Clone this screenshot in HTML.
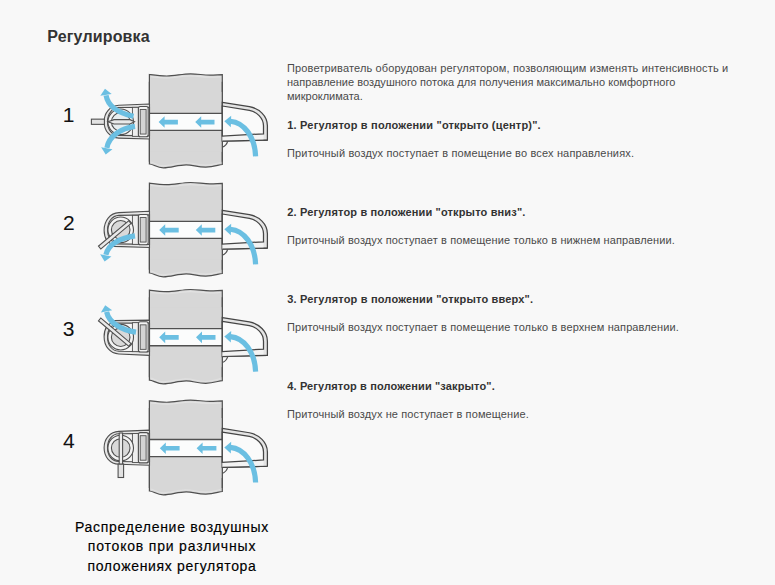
<!DOCTYPE html>
<html><head><meta charset="utf-8"><style>
html,body{margin:0;padding:0;}
body{width:775px;height:585px;background:#f8f8f8;position:relative;overflow:hidden;font-family:"Liberation Sans",sans-serif;}
.t{position:absolute;white-space:nowrap;}
.dg{-webkit-text-stroke:0.05px #111;}
.cp{-webkit-text-stroke:0.15px #000;}
</style></head><body>
<svg width="775" height="585" viewBox="0 0 775 585" style="position:absolute;left:0;top:0"><g transform="translate(0,121.85)"><g transform="translate(0,0)"><path d="M149.4,-47.35 C155,-46.6 160,-45.85 166.7,-45.85 C175,-45.85 182,-48.05 190.5,-48.05 C198,-48.05 203,-46.65 210,-46.65 C215,-46.65 219,-47.15 222.3,-47.15 L222.3,0 L149.4,0 Z" fill="#d7d7d7" stroke="#505050" stroke-width="1.2"/><path d="M151,-45.3 C156,-44.6 160,-43.9 166.7,-43.9 C175,-43.9 182,-46 190.5,-46 C198,-46 203,-44.7 210,-44.7 C215,-44.7 218,-45 220.5,-45.1" fill="none" stroke="#e2e2e2" stroke-width="1.3"/></g><g transform="translate(0,0)"><path d="M149.4,0 L222.3,0 L222.3,42.65 C219,42.65 214,45.35 205.7,45.35 C197,45.35 193,42.95 186.2,42.95 C178,42.95 171,45.95 163.4,45.95 C157,45.95 153,42.15 149.4,42.15 Z" fill="#d7d7d7" stroke="#505050" stroke-width="1.2"/><path d="M151,40.3 C153,40.3 157,44 163.4,44 C171,44 178,41 186.2,41 C193,41 197,43.4 205.7,43.4 C214,43.4 218,40.8 220.5,40.8" fill="none" stroke="#e0e0e0" stroke-width="1.3"/></g><rect x="149.4" y="-30" width="72.9" height="60" fill="#d7d7d7"/><line x1="149.4" y1="-40" x2="149.4" y2="40" stroke="#505050" stroke-width="1.2"/><line x1="222.3" y1="-40" x2="222.3" y2="40" stroke="#505050" stroke-width="1.2"/><rect x="149.4" y="-8.5" width="72.9" height="17" fill="#fbfcfc"/><line x1="149.4" y1="-8.5" x2="222.3" y2="-8.5" stroke="#505050" stroke-width="1.3"/><line x1="149.4" y1="8.6" x2="222.3" y2="8.6" stroke="#505050" stroke-width="1.3"/><path d="M158.6,0.2 L164.6,-5.6 L164.6,-2.1 L177.9,-2.1 L177.9,2.6 L164.6,2.6 L164.6,6 Z" fill="#6bbfe2"/><path d="M195.2,0.2 L201.2,-5.6 L201.2,-2.1 L214.5,-2.1 L214.5,2.6 L201.2,2.6 L201.2,6 Z" fill="#6bbfe2"/><path d="M222.3,-19.55 L249.4,-15.25 C259,-13.4 267.4,-6 267.4,4 L267.4,18.25 L222.3,19.35 Z" fill="#e4e4e4" stroke="#454545" stroke-width="1.25"/><path d="M222.3,14.35 L263.5,11.95 L263.5,18.35 L222.3,19.35 Z" fill="#f3f3f3"/><path d="M222.3,-15.85 L249.4,-11.55 C256.5,-10.2 263.5,-4 263.5,4 L263.5,11.95 L222.3,14.35 Z" fill="#fafafa" stroke="#454545" stroke-width="1.25"/><path d="M222.3,19.35 L267.4,18.25" fill="none" stroke="#454545" stroke-width="1.25"/><path d="M227.7,19.4 C227,22 224.5,24.5 222.3,25.4" fill="none" stroke="#505050" stroke-width="1.1"/><path d="M255.6,34.5 C255,15 244,0.5 230.3,-0.6" fill="none" stroke="#6bbfe2" stroke-width="5.2"/><path d="M224.3,-0.6 L231.2,-6.2 L230.8,5.4 Z" fill="#6bbfe2"/><path d="M149.5,-17.9 L118.8,-16.6 C110,-16.2 104.1,-9 104.1,-0.2 C104.1,9 110,16 118.8,16.3 L149.5,17.2 Z" fill="#e6e6e6" stroke="#505050" stroke-width="1.1"/><path d="M149.5,-14.6 L118.8,-14.3 C112,-14 107.5,-8 107.5,-0.2 C107.5,8 112,13.4 118.8,13.5 L149.5,14 Z" fill="#f6f6f6" stroke="#505050" stroke-width="1.1"/><rect x="132.4" y="-14.5" width="6" height="29" fill="#eeeeee" stroke="#505050" stroke-width="0.9"/><circle cx="120.7" cy="0" r="12.8" fill="#f4f4f4" stroke="#505050" stroke-width="1.1"/><circle cx="120.7" cy="0" r="9.3" fill="#e8eef0" stroke="#505050" stroke-width="1.1"/><rect x="138.4" y="-15.4" width="9.8" height="30.3" rx="2" fill="#f4f4f4" stroke="#505050" stroke-width="1.1"/><rect x="140.2" y="-12.3" width="5.9" height="24.5" fill="#d4d4d4" stroke="#505050" stroke-width="0.9"/><rect x="91.4" y="-2.7" width="13" height="5.2" fill="#e2e2e2" stroke="#505050" stroke-width="1.1"/><path d="M108,0 L114,-2.2 L130,-2.2 L134.5,0 L130,2.2 L114,2.2 Z" fill="#e9e9e9" stroke="#505050" stroke-width="1.1"/><path d="M133.5,-5.6 C120,-8.5 108,-15 106.08,-26.51" fill="none" stroke="#6bbfe2" stroke-width="5.2"/><path d="M104.98,-33.12 L111.67,-27.95 L100.33,-26.05 Z" fill="#6bbfe2"/><path d="M135,4.6 C121,6.5 109,14 106.89,26.01" fill="none" stroke="#6bbfe2" stroke-width="5.2"/><path d="M105.73,32.61 L101.14,25.50 L112.46,27.50 Z" fill="#6bbfe2"/></g><g transform="translate(0,229.85)"><g transform="translate(0,0.7)"><path d="M149.4,-47.35 C155,-46.6 160,-45.85 166.7,-45.85 C175,-45.85 182,-48.05 190.5,-48.05 C198,-48.05 203,-46.65 210,-46.65 C215,-46.65 219,-47.15 222.3,-47.15 L222.3,0 L149.4,0 Z" fill="#d7d7d7" stroke="#505050" stroke-width="1.2"/><path d="M151,-45.3 C156,-44.6 160,-43.9 166.7,-43.9 C175,-43.9 182,-46 190.5,-46 C198,-46 203,-44.7 210,-44.7 C215,-44.7 218,-45 220.5,-45.1" fill="none" stroke="#e2e2e2" stroke-width="1.3"/></g><g transform="translate(0,1.0)"><path d="M149.4,0 L222.3,0 L222.3,42.65 C219,42.65 214,45.35 205.7,45.35 C197,45.35 193,42.95 186.2,42.95 C178,42.95 171,45.95 163.4,45.95 C157,45.95 153,42.15 149.4,42.15 Z" fill="#d7d7d7" stroke="#505050" stroke-width="1.2"/><path d="M151,40.3 C153,40.3 157,44 163.4,44 C171,44 178,41 186.2,41 C193,41 197,43.4 205.7,43.4 C214,43.4 218,40.8 220.5,40.8" fill="none" stroke="#e0e0e0" stroke-width="1.3"/></g><rect x="149.4" y="-30" width="72.9" height="60" fill="#d7d7d7"/><line x1="149.4" y1="-40" x2="149.4" y2="40" stroke="#505050" stroke-width="1.2"/><line x1="222.3" y1="-40" x2="222.3" y2="40" stroke="#505050" stroke-width="1.2"/><rect x="149.4" y="-8.5" width="72.9" height="17" fill="#fbfcfc"/><line x1="149.4" y1="-8.5" x2="222.3" y2="-8.5" stroke="#505050" stroke-width="1.3"/><line x1="149.4" y1="8.6" x2="222.3" y2="8.6" stroke="#505050" stroke-width="1.3"/><path d="M159.2,0.2 L165.2,-5.6 L165.2,-2.1 L178.7,-2.1 L178.7,2.6 L165.2,2.6 L165.2,6 Z" fill="#6bbfe2"/><path d="M195.8,0.2 L201.8,-5.6 L201.8,-2.1 L215.3,-2.1 L215.3,2.6 L201.8,2.6 L201.8,6 Z" fill="#6bbfe2"/><path d="M222.3,-19.55 L249.4,-15.25 C259,-13.4 267.4,-6 267.4,4 L267.4,18.25 L222.3,19.35 Z" fill="#e4e4e4" stroke="#454545" stroke-width="1.25"/><path d="M222.3,14.35 L263.5,11.95 L263.5,18.35 L222.3,19.35 Z" fill="#f3f3f3"/><path d="M222.3,-15.85 L249.4,-11.55 C256.5,-10.2 263.5,-4 263.5,4 L263.5,11.95 L222.3,14.35 Z" fill="#fafafa" stroke="#454545" stroke-width="1.25"/><path d="M222.3,19.35 L267.4,18.25" fill="none" stroke="#454545" stroke-width="1.25"/><path d="M227.7,19.4 C227,22 224.5,24.5 222.3,25.4" fill="none" stroke="#505050" stroke-width="1.1"/><path d="M255.6,34.5 C255,15 244,0.5 230.3,-0.6" fill="none" stroke="#6bbfe2" stroke-width="5.2"/><path d="M224.3,-0.6 L231.2,-6.2 L230.8,5.4 Z" fill="#6bbfe2"/><path d="M149.5,-18.6 L118.8,-17.2 C110,-16.8 104.1,-9 104.1,0.5 C104.1,5 105,8 107,11 L114,16.5 L149.5,17.6 Z" fill="#e6e6e6" stroke="#505050" stroke-width="1.1"/><path d="M149.5,-15 L118.8,-14.5 C112,-14.2 107.5,-8 107.5,0.5 C107.5,4.5 108.5,7 110,9.5 L116,14 L149.5,14.5 Z" fill="#f6f6f6" stroke="#505050" stroke-width="1.1"/><rect x="132.4" y="-14.5" width="6" height="29" fill="#eeeeee" stroke="#505050" stroke-width="0.9"/><circle cx="120.7" cy="0" r="12.8" fill="#f4f4f4" stroke="#505050" stroke-width="1.1"/><circle cx="120.7" cy="0" r="9.3" fill="#d9d9d9" stroke="#505050" stroke-width="1.1"/><rect x="138.4" y="-15.4" width="9.8" height="30.3" rx="2" fill="#f4f4f4" stroke="#505050" stroke-width="1.1"/><rect x="140.2" y="-12.3" width="5.9" height="24.5" fill="#d4d4d4" stroke="#505050" stroke-width="0.9"/><g transform="translate(120.7,0) rotate(-40)"><rect x="-27.5" y="-1.8" width="39.5" height="3.6" fill="#e9e9e9" stroke="#505050" stroke-width="1.1"/></g><path d="M135,6 C121,8 108,14 105.89,25.01" fill="none" stroke="#6bbfe2" stroke-width="5.2"/><path d="M104.64,31.59 L100.15,24.42 L111.45,26.58 Z" fill="#6bbfe2"/></g><g transform="translate(0,337.15)"><g transform="translate(0,0.4)"><path d="M149.4,-47.35 C155,-46.6 160,-45.85 166.7,-45.85 C175,-45.85 182,-48.05 190.5,-48.05 C198,-48.05 203,-46.65 210,-46.65 C215,-46.65 219,-47.15 222.3,-47.15 L222.3,0 L149.4,0 Z" fill="#d7d7d7" stroke="#505050" stroke-width="1.2"/><path d="M151,-45.3 C156,-44.6 160,-43.9 166.7,-43.9 C175,-43.9 182,-46 190.5,-46 C198,-46 203,-44.7 210,-44.7 C215,-44.7 218,-45 220.5,-45.1" fill="none" stroke="#e2e2e2" stroke-width="1.3"/></g><g transform="translate(0,0.8)"><path d="M149.4,0 L222.3,0 L222.3,42.65 C219,42.65 214,45.35 205.7,45.35 C197,45.35 193,42.95 186.2,42.95 C178,42.95 171,45.95 163.4,45.95 C157,45.95 153,42.15 149.4,42.15 Z" fill="#d7d7d7" stroke="#505050" stroke-width="1.2"/><path d="M151,40.3 C153,40.3 157,44 163.4,44 C171,44 178,41 186.2,41 C193,41 197,43.4 205.7,43.4 C214,43.4 218,40.8 220.5,40.8" fill="none" stroke="#e0e0e0" stroke-width="1.3"/></g><rect x="149.4" y="-30" width="72.9" height="60" fill="#d7d7d7"/><line x1="149.4" y1="-40" x2="149.4" y2="40" stroke="#505050" stroke-width="1.2"/><line x1="222.3" y1="-40" x2="222.3" y2="40" stroke="#505050" stroke-width="1.2"/><rect x="149.4" y="-8.5" width="72.9" height="17" fill="#fbfcfc"/><line x1="149.4" y1="-8.5" x2="222.3" y2="-8.5" stroke="#505050" stroke-width="1.3"/><line x1="149.4" y1="8.6" x2="222.3" y2="8.6" stroke="#505050" stroke-width="1.3"/><path d="M159.2,0.2 L165.2,-5.6 L165.2,-2.1 L178.7,-2.1 L178.7,2.6 L165.2,2.6 L165.2,6 Z" fill="#6bbfe2"/><path d="M196.0,0.2 L202.0,-5.6 L202.0,-2.1 L215.5,-2.1 L215.5,2.6 L202.0,2.6 L202.0,6 Z" fill="#6bbfe2"/><path d="M222.3,-19.55 L249.4,-15.25 C259,-13.4 267.4,-6 267.4,4 L267.4,18.25 L222.3,19.35 Z" fill="#e4e4e4" stroke="#454545" stroke-width="1.25"/><path d="M222.3,14.35 L263.5,11.95 L263.5,18.35 L222.3,19.35 Z" fill="#f3f3f3"/><path d="M222.3,-15.85 L249.4,-11.55 C256.5,-10.2 263.5,-4 263.5,4 L263.5,11.95 L222.3,14.35 Z" fill="#fafafa" stroke="#454545" stroke-width="1.25"/><path d="M222.3,19.35 L267.4,18.25" fill="none" stroke="#454545" stroke-width="1.25"/><path d="M227.7,19.4 C227,22 224.5,24.5 222.3,25.4" fill="none" stroke="#505050" stroke-width="1.1"/><path d="M255.6,34.5 C255,15 244,0.5 230.3,-0.6" fill="none" stroke="#6bbfe2" stroke-width="5.2"/><path d="M224.3,-0.6 L231.2,-6.2 L230.8,5.4 Z" fill="#6bbfe2"/><path d="M149.5,18.2 L118.8,16.8 C110,16.4 104.1,9 104.1,-0.5 C104.1,-5 105,-8 107,-11 L114,-16.5 L149.5,-17 Z" fill="#e6e6e6" stroke="#505050" stroke-width="1.1"/><path d="M149.5,14.6 L118.8,14.1 C112,13.8 107.5,8 107.5,-0.5 C107.5,-4.5 108.5,-7 110,-9.5 L116,-14 L149.5,-14 Z" fill="#f6f6f6" stroke="#505050" stroke-width="1.1"/><rect x="132.4" y="-14.5" width="6" height="29" fill="#eeeeee" stroke="#505050" stroke-width="0.9"/><circle cx="120.7" cy="0" r="12.8" fill="#f4f4f4" stroke="#505050" stroke-width="1.1"/><circle cx="120.7" cy="0" r="9.3" fill="#d9d9d9" stroke="#505050" stroke-width="1.1"/><rect x="138.4" y="-15.4" width="9.8" height="30.3" rx="2" fill="#f4f4f4" stroke="#505050" stroke-width="1.1"/><rect x="140.2" y="-12.3" width="5.9" height="24.5" fill="#d4d4d4" stroke="#505050" stroke-width="0.9"/><g transform="translate(120.7,0) rotate(40)"><rect x="-27.5" y="-1.8" width="39.5" height="3.6" fill="#e9e9e9" stroke="#505050" stroke-width="1.1"/></g><path d="M136,-5 C122,-7 109,-14 106.60,-25.31" fill="none" stroke="#6bbfe2" stroke-width="5.2"/><path d="M105.21,-31.87 L112.13,-26.99 L100.87,-24.61 Z" fill="#6bbfe2"/></g><g transform="translate(0,448.0)"><g transform="translate(0,0.1)"><path d="M149.4,-47.35 C155,-46.6 160,-45.85 166.7,-45.85 C175,-45.85 182,-48.05 190.5,-48.05 C198,-48.05 203,-46.65 210,-46.65 C215,-46.65 219,-47.15 222.3,-47.15 L222.3,0 L149.4,0 Z" fill="#d7d7d7" stroke="#505050" stroke-width="1.2"/><path d="M151,-45.3 C156,-44.6 160,-43.9 166.7,-43.9 C175,-43.9 182,-46 190.5,-46 C198,-46 203,-44.7 210,-44.7 C215,-44.7 218,-45 220.5,-45.1" fill="none" stroke="#e2e2e2" stroke-width="1.3"/></g><g transform="translate(0,0.85)"><path d="M149.4,0 L222.3,0 L222.3,42.65 C219,42.65 214,45.35 205.7,45.35 C197,45.35 193,42.95 186.2,42.95 C178,42.95 171,45.95 163.4,45.95 C157,45.95 153,42.15 149.4,42.15 Z" fill="#d7d7d7" stroke="#505050" stroke-width="1.2"/><path d="M151,40.3 C153,40.3 157,44 163.4,44 C171,44 178,41 186.2,41 C193,41 197,43.4 205.7,43.4 C214,43.4 218,40.8 220.5,40.8" fill="none" stroke="#e0e0e0" stroke-width="1.3"/></g><rect x="149.4" y="-30" width="72.9" height="60" fill="#d7d7d7"/><line x1="149.4" y1="-40" x2="149.4" y2="40" stroke="#505050" stroke-width="1.2"/><line x1="222.3" y1="-40" x2="222.3" y2="40" stroke="#505050" stroke-width="1.2"/><rect x="149.4" y="-8.5" width="72.9" height="17" fill="#fbfcfc"/><line x1="149.4" y1="-8.5" x2="222.3" y2="-8.5" stroke="#505050" stroke-width="1.3"/><line x1="149.4" y1="8.6" x2="222.3" y2="8.6" stroke="#505050" stroke-width="1.3"/><path d="M159.8,0.2 L165.8,-5.6 L165.8,-2.1 L179.60000000000002,-2.1 L179.60000000000002,2.6 L165.8,2.6 L165.8,6 Z" fill="#6bbfe2"/><path d="M196.6,0.2 L202.6,-5.6 L202.6,-2.1 L216.4,-2.1 L216.4,2.6 L202.6,2.6 L202.6,6 Z" fill="#6bbfe2"/><path d="M222.3,-19.55 L249.4,-15.25 C259,-13.4 267.4,-6 267.4,4 L267.4,18.25 L222.3,19.35 Z" fill="#e4e4e4" stroke="#454545" stroke-width="1.25"/><path d="M222.3,14.35 L263.5,11.95 L263.5,18.35 L222.3,19.35 Z" fill="#f3f3f3"/><path d="M222.3,-15.85 L249.4,-11.55 C256.5,-10.2 263.5,-4 263.5,4 L263.5,11.95 L222.3,14.35 Z" fill="#fafafa" stroke="#454545" stroke-width="1.25"/><path d="M222.3,19.35 L267.4,18.25" fill="none" stroke="#454545" stroke-width="1.25"/><path d="M227.7,19.4 C227,22 224.5,24.5 222.3,25.4" fill="none" stroke="#505050" stroke-width="1.1"/><path d="M255.6,34.5 C255,15 244,0.5 230.3,-0.6" fill="none" stroke="#6bbfe2" stroke-width="5.2"/><path d="M224.3,-0.6 L231.2,-6.2 L230.8,5.4 Z" fill="#6bbfe2"/><path d="M149.5,-17.9 L118.8,-16.6 C110,-16.2 104.1,-9 104.1,-0.2 C104.1,9 110,16 118.8,16.3 L149.5,17.2 Z" fill="#e6e6e6" stroke="#505050" stroke-width="1.1"/><path d="M149.5,-14.6 L118.8,-14.3 C112,-14 107.5,-8 107.5,-0.2 C107.5,8 112,13.4 118.8,13.5 L149.5,14 Z" fill="#f6f6f6" stroke="#505050" stroke-width="1.1"/><rect x="132.4" y="-14.5" width="6" height="29" fill="#eeeeee" stroke="#505050" stroke-width="0.9"/><circle cx="120.7" cy="0" r="12.8" fill="#f4f4f4" stroke="#505050" stroke-width="1.1"/><circle cx="120.7" cy="0" r="9.3" fill="#d9d9d9" stroke="#505050" stroke-width="1.1"/><rect x="138.4" y="-15.4" width="9.8" height="30.3" rx="2" fill="#f4f4f4" stroke="#505050" stroke-width="1.1"/><rect x="140.2" y="-12.3" width="5.9" height="24.5" fill="#d4d4d4" stroke="#505050" stroke-width="0.9"/><rect x="118.1" y="16" width="5.5" height="13.5" fill="#e2e2e2" stroke="#505050" stroke-width="1.1"/><rect x="119.2" y="-15" width="3.4" height="31" fill="#ececec" stroke="#505050" stroke-width="1.1"/></g></svg>
<div class="t" style="left:47.3px;top:26.96px;font-size:16px;line-height:19.2px;font-weight:bold;color:#333;letter-spacing:0.150px">Регулировка</div>
<div class="t" style="left:287px;top:61.59px;font-size:11px;line-height:13.2px;font-weight:normal;color:#4a4a4a;letter-spacing:0.142px">Проветриватель оборудован регулятором, позволяющим изменять интенсивность и</div>
<div class="t" style="left:287px;top:75.59px;font-size:11px;line-height:13.2px;font-weight:normal;color:#4a4a4a;letter-spacing:0.032px">направление воздушного потока для получения максимально комфортного</div>
<div class="t" style="left:287px;top:89.59px;font-size:11px;line-height:13.2px;font-weight:normal;color:#4a4a4a;letter-spacing:0.000px">микроклимата.</div>
<div class="t" style="left:287.3px;top:118.59px;font-size:11px;line-height:13.2px;font-weight:bold;color:#333;letter-spacing:0.190px">1. Регулятор в положении "открыто (центр)".</div>
<div class="t" style="left:287px;top:146.89px;font-size:11px;line-height:13.2px;font-weight:normal;color:#4a4a4a;letter-spacing:0.154px">Приточный воздух поступает в помещение во всех направлениях.</div>
<div class="t" style="left:287.3px;top:205.59px;font-size:11px;line-height:13.2px;font-weight:bold;color:#333;letter-spacing:0.154px">2. Регулятор в положении "открыто вниз".</div>
<div class="t" style="left:287px;top:233.99px;font-size:11px;line-height:13.2px;font-weight:normal;color:#4a4a4a;letter-spacing:0.111px">Приточный воздух поступает в помещение только в нижнем направлении.</div>
<div class="t" style="left:287.3px;top:292.59px;font-size:11px;line-height:13.2px;font-weight:bold;color:#333;letter-spacing:0.180px">3. Регулятор в положении "открыто вверх".</div>
<div class="t" style="left:287px;top:320.99px;font-size:11px;line-height:13.2px;font-weight:normal;color:#4a4a4a;letter-spacing:0.115px">Приточный воздух поступает в помещение только в верхнем направлении.</div>
<div class="t" style="left:287.3px;top:379.59px;font-size:11px;line-height:13.2px;font-weight:bold;color:#333;letter-spacing:0.132px">4. Регулятор в положении "закрыто".</div>
<div class="t" style="left:287px;top:407.99px;font-size:11px;line-height:13.2px;font-weight:normal;color:#4a4a4a;letter-spacing:0.107px">Приточный воздух не поступает в помещение.</div>
<div class="t dg" style="left:62.7px;top:101.62px;font-size:21px;line-height:25.2px;font-weight:normal;color:#111;letter-spacing:0.000px">1</div>
<div class="t dg" style="left:63.0px;top:210.12px;font-size:21px;line-height:25.2px;font-weight:normal;color:#111;letter-spacing:0.000px">2</div>
<div class="t dg" style="left:62.800000000000004px;top:316.42px;font-size:21px;line-height:25.2px;font-weight:normal;color:#111;letter-spacing:0.000px">3</div>
<div class="t dg" style="left:63.0px;top:427.92px;font-size:21px;line-height:25.2px;font-weight:normal;color:#111;letter-spacing:0.000px">4</div>
<div class="t cp" style="left:-28px;width:400px;text-align:center;top:518.65px;font-size:14px;line-height:16.8px;font-weight:normal;color:#000;letter-spacing:0.732px">Распределение воздушных</div>
<div class="t cp" style="left:-28px;width:400px;text-align:center;top:538.45px;font-size:14px;line-height:16.8px;font-weight:normal;color:#000;letter-spacing:0.815px">потоков при различных</div>
<div class="t cp" style="left:-28px;width:400px;text-align:center;top:558.45px;font-size:14px;line-height:16.8px;font-weight:normal;color:#000;letter-spacing:0.675px">положениях регулятора</div>
</body></html>
